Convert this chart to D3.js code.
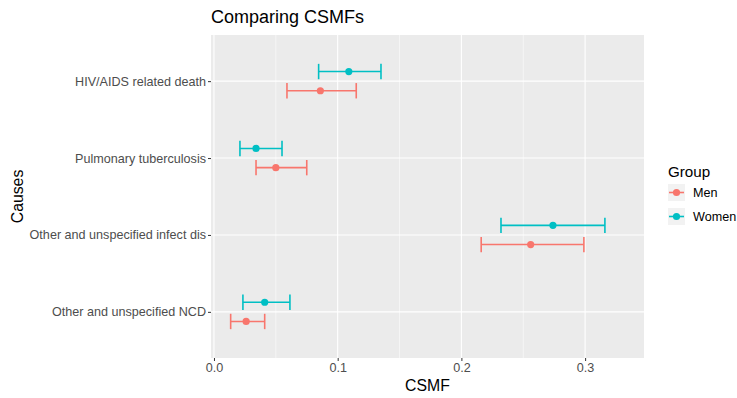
<!DOCTYPE html>
<html lang="en">
<head>
<meta charset="utf-8">
<title>Comparing CSMFs</title>
<script src="https://d3js.org/d3.v7.min.js"></script>
<style>
  body { margin: 0; background: #fff; }
  text { font-family: "Liberation Sans", Arial, sans-serif; }
</style>
</head>
<body>
<div id="chart"></div>
<script>
const width = 737
const height = 398

// data
const causes = ['HIV/AIDS related death', 'Pulmonary tuberculosis',
                'Other and unspecified infect dis', 'Other and unspecified NCD']
const groups = ['Men', 'Women']
const menEst = [0.086, 0.050, 0.256, 0.026]
const menLow = [0.059, 0.034, 0.216, 0.0135]
const menHigh = [0.115, 0.075, 0.299, 0.041]
const womenEst = [0.109, 0.034, 0.274, 0.041]
const womenLow = [0.0846, 0.021, 0.232, 0.0234]
const womenHigh = [0.135, 0.055, 0.316, 0.0614]
const xTicks = [0, 0.1, 0.2, 0.3]
const xMinor = [0.05, 0.15, 0.25]

const colors = { Men: '#F8766D', Women: '#00BFC4' }

const panel = { left: 211, right: 644, top: 35, bottom: 358 }

const rows = []
causes.forEach((c, i) => {
    rows.push({ cause: c, group: 'Men', est: menEst[i], lo: menLow[i], hi: menHigh[i] })
    rows.push({ cause: c, group: 'Women', est: womenEst[i], lo: womenLow[i], hi: womenHigh[i] })
})

const svg = d3.select('#chart').append('svg')
    .attr('width', width)
    .attr('height', height)

const xScale = d3.scaleLinear()
    .domain([-0.0024, 0.3476])
    .range([panel.left, panel.right])

// discrete axis, ggplot style: 0.6 units of padding at each end
const yIndex = d3.scaleLinear()
    .domain([0.4, causes.length + 0.6])
    .range([panel.top, panel.bottom])
const yPos = c => yIndex(causes.indexOf(c) + 1)
const unit = yIndex(1) - yIndex(0)
const dodge = g => (g === 'Men' ? 1 : -1) * 0.125 * unit

// panel background
svg.append('rect')
    .attr('x', panel.left).attr('y', panel.top)
    .attr('width', panel.right - panel.left)
    .attr('height', panel.bottom - panel.top)
    .attr('fill', '#EBEBEB')

const grid = svg.append('g')
grid.selectAll('.minor')
    .data(xMinor)
    .join('line')
    .attr('x1', d => xScale(d)).attr('x2', d => xScale(d))
    .attr('y1', panel.top).attr('y2', panel.bottom)
    .attr('stroke', '#fff').attr('stroke-width', 0.55)
grid.selectAll('.majorx')
    .data(xTicks)
    .join('line')
    .attr('x1', d => xScale(d)).attr('x2', d => xScale(d))
    .attr('y1', panel.top).attr('y2', panel.bottom)
    .attr('stroke', '#fff').attr('stroke-width', 1.1)
grid.selectAll('.majory')
    .data(causes)
    .join('line')
    .attr('x1', panel.left).attr('x2', panel.right)
    .attr('y1', d => yPos(d)).attr('y2', d => yPos(d))
    .attr('stroke', '#fff').attr('stroke-width', 1.1)

// error bars
const bars = svg.append('g').selectAll('g')
    .data(rows)
    .join('g')
    .attr('stroke', d => colors[d.group])
    .attr('stroke-width', 1.6)
const cap = 0.1 * unit
bars.append('line')
    .attr('x1', d => xScale(d.lo)).attr('x2', d => xScale(d.hi))
    .attr('y1', d => yPos(d.cause) + dodge(d.group))
    .attr('y2', d => yPos(d.cause) + dodge(d.group))
bars.append('line')
    .attr('x1', d => xScale(d.lo)).attr('x2', d => xScale(d.lo))
    .attr('y1', d => yPos(d.cause) + dodge(d.group) - cap)
    .attr('y2', d => yPos(d.cause) + dodge(d.group) + cap)
bars.append('line')
    .attr('x1', d => xScale(d.hi)).attr('x2', d => xScale(d.hi))
    .attr('y1', d => yPos(d.cause) + dodge(d.group) - cap)
    .attr('y2', d => yPos(d.cause) + dodge(d.group) + cap)

svg.append('g').selectAll('circle')
    .data(rows)
    .join('circle')
    .attr('cx', d => xScale(d.est))
    .attr('cy', d => yPos(d.cause) + dodge(d.group))
    .attr('r', 3.6)
    .attr('fill', d => colors[d.group])

// axes
const xAxis = d3.axisBottom(xScale)
    .tickValues(xTicks)
    .tickFormat(d3.format('.1f'))
    .tickSize(3).tickPadding(2)
const gx = svg.append('g')
    .attr('transform', `translate(0, ${panel.bottom})`)
    .call(xAxis)
gx.select('.domain').remove()
gx.selectAll('line').attr('stroke', '#333')
gx.selectAll('text').attr('fill', '#4D4D4D').attr('font-size', 12.6)
    .attr('font-family', '"Liberation Sans", Arial, sans-serif')

const yAxis = d3.axisLeft(d3.scalePoint().domain(causes).range([yPos(causes[0]), yPos(causes[3])]))
    .tickSize(3).tickPadding(2)
const gy = svg.append('g')
    .attr('transform', `translate(${panel.left}, 0)`)
    .call(yAxis)
gy.select('.domain').remove()
gy.selectAll('line').attr('stroke', '#333')
gy.selectAll('text').attr('fill', '#4D4D4D').attr('font-size', 12.6)
    .attr('font-family', '"Liberation Sans", Arial, sans-serif')

// titles
svg.append('text')
    .attr('x', 211).attr('y', 23)
    .attr('font-size', 18)
    .text('Comparing CSMFs')
svg.append('text')
    .attr('x', (panel.left + panel.right) / 2).attr('y', 391)
    .attr('text-anchor', 'middle')
    .attr('font-size', 15.8)
    .text('CSMF')
svg.append('text')
    .attr('transform', `translate(23, ${(panel.top + panel.bottom) / 2}) rotate(-90)`)
    .attr('text-anchor', 'middle')
    .attr('font-size', 15.8)
    .text('Causes')

// legend
const legend = svg.append('g').attr('transform', 'translate(668, 0)')
legend.append('text')
    .attr('x', 0).attr('y', 177)
    .attr('font-size', 15.2)
    .text('Group')
const keys = legend.selectAll('.key')
    .data(groups)
    .join('g')
    .attr('transform', (d, i) => `translate(0, ${184 + i * 24})`)
keys.append('rect')
    .attr('width', 17).attr('height', 17)
    .attr('fill', '#F2F2F2')
keys.append('line')
    .attr('x1', 1).attr('x2', 16).attr('y1', 8.5).attr('y2', 8.5)
    .attr('stroke', d => colors[d]).attr('stroke-width', 1.6)
keys.append('circle')
    .attr('cx', 8.5).attr('cy', 8.5).attr('r', 3.6)
    .attr('fill', d => colors[d])
keys.append('text')
    .attr('x', 25).attr('y', 13)
    .attr('font-size', 12.6)
    .text(d => d)
</script>
</body>
</html>
